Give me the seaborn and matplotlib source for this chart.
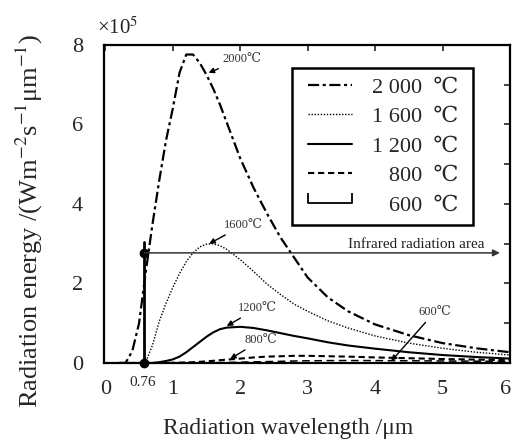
import pandas as pd
import matplotlib.pyplot as plt
import matplotlib.transforms as mtransforms
import seaborn as sns
from matplotlib.lines import Line2D

# Style: white background, Times-like serif
sns.set_style('white')
plt.rcParams['font.family'] = ['Liberation Serif', 'DejaVu Serif']
plt.rcParams['mathtext.fontset'] = 'stix'

# Values (x 10^5 W m-2 s-1 um-1)
wavelength = [0.2, 0.3, 0.4, 0.5, 0.6, 0.7, 0.8, 0.9, 1.0, 1.1,
              1.2, 1.3, 1.4, 1.5, 1.6, 1.7, 1.8, 2.0, 2.2, 2.4,
              2.6, 2.8, 3.0, 3.3, 3.6, 4.0, 4.5, 5.0, 5.5, 6.0]
e2000 = [0, 0, 0.3, 1.0, 2.3, 3.5, 4.6, 5.6, 6.4, 7.3,
         7.76, 7.76, 7.55, 7.25, 6.9, 6.5, 6.05, 5.15, 4.4, 3.75,
         3.15, 2.65, 2.15, 1.65, 1.3, 0.97, 0.7, 0.5, 0.37, 0.27]
e1600 = [0, 0, 0, 0, 0.03, 0.45, 1.05, 1.5, 1.9, 2.25,
         2.55, 2.77, 2.92, 2.99, 3.0, 2.95, 2.86, 2.6, 2.3, 1.98,
         1.72, 1.48, 1.3, 1.06, 0.88, 0.68, 0.5, 0.37, 0.27, 0.2]
e1200 = [0, 0, 0, 0, 0, 0, 0.02, 0.05, 0.09, 0.16,
         0.27, 0.4, 0.53, 0.66, 0.77, 0.85, 0.89, 0.91, 0.88, 0.82,
         0.75, 0.68, 0.62, 0.52, 0.44, 0.36, 0.27, 0.2, 0.15, 0.11]
e800 = [0, 0, 0, 0, 0, 0, 0, 0, 0.005, 0.01,
        0.015, 0.02, 0.03, 0.04, 0.055, 0.07, 0.085, 0.11, 0.14, 0.16,
        0.17, 0.18, 0.18, 0.17, 0.16, 0.14, 0.12, 0.1, 0.085, 0.07]
e600 = [0, 0, 0, 0, 0, 0, 0, 0, 0, 0,
        0, 0, 0.003, 0.005, 0.007, 0.01, 0.013, 0.02, 0.028, 0.035,
        0.042, 0.05, 0.055, 0.06, 0.062, 0.06, 0.056, 0.05, 0.045, 0.04]

legend_labels = ['2 000  \u2103', '1 600  \u2103', '1 200  \u2103',
                 '   800  \u2103', '   600  \u2103']
curve_labels = ['2000\u2103', '1600\u2103', '1200\u2103', '800\u2103', '600\u2103']

# visible-light boundary as drawn in the reference
ir_start = 0.58
ir_level = 2.77

df = pd.DataFrame({'Wavelength': wavelength, '2000': e2000, '1600': e1600,
                   '1200': e1200, '800': e800, '600': e600})

styles = {
    '2000': dict(linestyle=(0, (5, 1.6, 1.4, 1.6)), linewidth=1.6),
    '1600': dict(linestyle=(0, (1, 1.2)), linewidth=1.0),
    '1200': dict(linestyle='-', linewidth=1.5),
    '800': dict(linestyle=(0, (3, 1.8)), linewidth=1.5),
    '600': dict(linestyle=(0, (5, 3)), linewidth=1.1),
}

fig = plt.figure(figsize=(5.14, 4.41), dpi=100)
ax = fig.add_axes([0.2023, 0.1769, 0.7899, 0.7211])

for col in ['2000', '1600', '1200', '800', '600']:
    sns.lineplot(x='Wavelength', y=col, data=df, color='black', ax=ax,
                 legend=False, **styles[col])

# visible / infrared boundary and arrow
ax.plot([ir_start, ir_start], [0, 3.05], color='black', lw=2)
ax.plot([ir_start, ir_start], [0, ir_level], 'o', color='black', ms=6,
        clip_on=False)
ax.annotate('', xy=(5.85, ir_level), xytext=(ir_start, ir_level),
            arrowprops=dict(arrowstyle='-|>', color='#333333', lw=1.1,
                            mutation_scale=10, shrinkA=0, shrinkB=0))
ax.text(5.62, 2.81, 'Infrared radiation area', ha='right', va='bottom',
        fontsize=11, color='#222222')
ax.text(0.56, -0.5, '0.76', ha='center', va='center', fontsize=11,
        clip_on=False)

# curve labels with arrows
arrow = dict(arrowstyle='-|>', color='black', lw=1.0, mutation_scale=8,
             shrinkA=1, shrinkB=0)
ax.annotate(curve_labels[0], xy=(1.53, 7.3), xytext=(1.74, 7.65),
            ha='left', va='center', fontsize=9, color='#333333', arrowprops=arrow)
ax.annotate(curve_labels[1], xy=(1.54, 3.0), xytext=(1.76, 3.47),
            ha='left', va='center', fontsize=9, color='#333333', arrowprops=arrow)
ax.annotate(curve_labels[2], xy=(1.8, 0.93), xytext=(1.97, 1.38),
            ha='left', va='center', fontsize=9, color='#333333', arrowprops=arrow)
ax.annotate(curve_labels[3], xy=(1.85, 0.1), xytext=(2.07, 0.58),
            ha='left', va='center', fontsize=9, color='#333333', arrowprops=arrow)
ax.annotate(curve_labels[4], xy=(4.24, 0.05), xytext=(4.64, 1.28),
            ha='left', va='center', fontsize=9, color='#333333', arrowprops=arrow)

# axes
ax.set_xlim(-0.02, 6)
ax.set_ylim(0, 8)
ax.set_xticks([0, 1, 2, 3, 4, 5, 6])
ax.set_yticks([0, 2, 4, 6, 8])
ax.set_yticks([1, 3, 5, 7], minor=True)
ax.tick_params(axis='both', which='both', direction='in', length=4, width=1.2,
               top=True, right=True, labelsize=16)
ax.tick_params(axis='x', pad=12)
ax.tick_params(axis='y', pad=15)
for sp in ax.spines.values():
    sp.set_linewidth(1.6)
    sp.set_color('black')

# keep the last x tick label inside the canvas
last = ax.get_xticklabels()[-1]
last.set_transform(last.get_transform() +
                   mtransforms.ScaledTranslation(-3 / 72, 0, fig.dpi_scale_trans))

ax.set_xlabel('Radiation wavelength /\u03bcm', fontsize=17)
ax.set_ylabel('Radiation energy /(Wm$^{-2}$s$^{-1}$\u03bcm$^{-1}$)', fontsize=19)
ax.xaxis.set_label_coords(0.453, -0.173)
ax.yaxis.set_label_coords(-0.145, 0.447)
ax.text(-0.017, 1.053, '\u00d710$^{5}$', transform=ax.transAxes, fontsize=15,
        ha='left', va='center')

# legend with proxy handles matching the line styles
handles = [Line2D([], [], color='black', **styles[k]) for k in ['2000', '1600', '1200', '800']]
handles.append(Line2D([], [], color='black', lw=1.3, marker=2, ms=7, mew=1.3))
leg = ax.legend(handles, legend_labels, loc='upper left',
                bbox_to_anchor=(0.463, 0.928, 0.446, 0.0), mode='expand',
                borderaxespad=0, fontsize=16, numpoints=2, handlelength=2.6,
                handletextpad=0.6, labelspacing=0.4, borderpad=0.42,
                fancybox=False, edgecolor='black', framealpha=1)
leg.get_frame().set_linewidth(1.8)

fig.savefig('out.png', dpi=100)
